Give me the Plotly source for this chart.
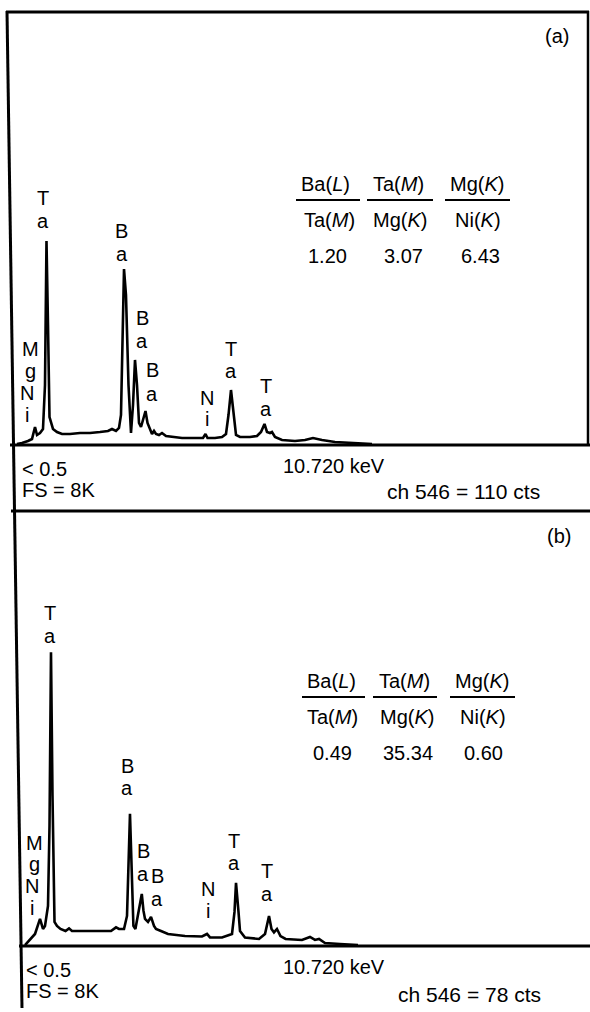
import plotly.graph_objects as go

# ---------------- data ----------------
# energy in keV, counts (full scale 8K)
energy_a = [0.776, 0.948, 1.155, 1.293, 1.397, 1.466, 1.569, 1.672, 1.741, 1.793,
            1.845, 1.897, 2.017, 2.155, 2.328, 2.603, 2.948, 3.293, 3.638, 3.914,
            4.052, 4.190, 4.293, 4.362, 4.466, 4.534, 4.621, 4.707, 4.776, 4.845,
            4.914, 4.983, 5.052, 5.121, 5.207, 5.276, 5.362, 5.431, 5.500, 5.569,
            5.672, 5.776, 5.914, 6.121, 6.466, 6.914, 7.190, 7.276, 7.345, 7.603,
            7.845, 7.983, 8.069, 8.155, 8.241, 8.328, 8.466, 8.810, 9.052, 9.190,
            9.310, 9.397, 9.500, 9.569, 9.672, 9.914, 10.362, 10.707, 10.983, 11.293,
            11.741, 12.259, 13.017]
counts_a = [18, 37, 74, 111, 333, 185, 222, 296, 1109, 3770,
            2218, 517, 296, 240, 203, 203, 222, 222, 240, 259,
            296, 259, 314, 554, 3252, 2772, 1109, 222, 739, 1571,
            1109, 407, 333, 480, 628, 407, 277, 203, 259, 203,
            185, 222, 166, 148, 129, 129, 129, 203, 129, 129,
            148, 203, 554, 1016, 647, 185, 148, 148, 166, 240,
            388, 240, 222, 240, 148, 92, 74, 92, 129, 92,
            55, 37, 18]

energy_b = [1.052, 1.224, 1.397, 1.569, 1.672, 1.741, 1.845, 1.897, 1.948, 2.000,
            2.069, 2.155, 2.276, 2.448, 2.569, 2.672, 3.086, 3.672, 4.017, 4.190,
            4.293, 4.466, 4.569, 4.672, 4.724, 4.790, 4.859, 4.948, 5.079, 5.138,
            5.190, 5.293, 5.397, 5.500, 5.569, 5.741, 5.983, 6.569, 7.155, 7.328,
            7.431, 7.845, 8.190, 8.276, 8.328, 8.414, 8.466, 8.638, 9.121, 9.328,
            9.466, 9.552, 9.638, 9.741, 9.862, 10.038, 10.603, 10.879, 11.052, 11.190,
            11.397, 11.914, 12.534]
counts_b = [18, 129, 221, 498, 313, 369, 737, 2212, 5400, 2765,
            442, 369, 313, 276, 324, 276, 276, 276, 276, 343,
            313, 313, 553, 2433, 1659, 369, 313, 553, 958, 645,
            498, 442, 534, 369, 313, 276, 221, 184, 175, 221,
            157, 157, 221, 627, 1161, 627, 276, 157, 129, 221,
            553, 313, 249, 313, 184, 129, 111, 166, 111, 129,
            55, 37, 18]

ratio_headers_num = ["Ba(<i>L</i>)", "Ta(<i>M</i>)", "Mg(<i>K</i>)"]
ratio_headers_den = ["Ta(<i>M</i>)", "Mg(<i>K</i>)", "Ni(<i>K</i>)"]
ratios_a = ["1.20", "3.07", "6.43"]
ratios_b = ["0.49", "35.34", "0.60"]
counts_ch546 = ["110", "78"]
panel_tags = ["(a)", "(b)"]
full_scale = 8000
x_range = [0.638, 20.466]

# ---------------- layout helpers (pixel geometry) ----------------
W, H = 590, 1012
FONT = "Liberation Sans, Arial, Helvetica, sans-serif"


def px(x):
    return x / W


def py(y):
    return 1 - y / H


fig = go.Figure()

fig.add_trace(go.Scatter(x=energy_a, y=counts_a, mode="lines",
                         line=dict(color="black", width=2.6),
                         xaxis="x", yaxis="y", showlegend=False, hoverinfo="skip"))
fig.add_trace(go.Scatter(x=energy_b, y=counts_b, mode="lines",
                         line=dict(color="black", width=2.6),
                         xaxis="x2", yaxis="y2", showlegend=False, hoverinfo="skip"))

ax_common = dict(showgrid=False, zeroline=False, showticklabels=False,
                 ticks="", showline=False, fixedrange=True)
fig.update_layout(
    width=W, height=H,
    margin=dict(l=0, r=0, t=0, b=0),
    paper_bgcolor="white", plot_bgcolor="rgba(0,0,0,0)",
    xaxis=dict(domain=[px(13), px(588)], range=x_range, anchor="y", **ax_common),
    yaxis=dict(domain=[py(445), py(12)], range=[0, full_scale], anchor="x", **ax_common),
    xaxis2=dict(domain=[px(13), px(588)], range=x_range, anchor="y2", **ax_common),
    yaxis2=dict(domain=[py(946), py(511)], range=[0, full_scale], anchor="x2", **ax_common),
    showlegend=False,
)


def hline(x0, x1, y, w=3):
    fig.add_shape(type="line", xref="paper", yref="paper",
                  x0=px(x0), x1=px(x1), y0=py(y), y1=py(y),
                  line=dict(color="black", width=w))


def seg(x0, y0, x1, y1, w=3):
    fig.add_shape(type="line", xref="paper", yref="paper",
                  x0=px(x0), x1=px(x1), y0=py(y0), y1=py(y1),
                  line=dict(color="black", width=w))


# frame lines
hline(6, 589, 12)
seg(588, 11, 588, 445, 2.5)
seg(7, 11, 22, 1008, 3)
hline(10, 590, 445)
hline(11, 590, 511)
hline(19, 590, 946)


def ann(text, x, y, size=20, xanchor="center"):
    fig.add_annotation(text=text, x=px(x), y=py(y), xref="paper", yref="paper",
                       showarrow=False, xanchor=xanchor, yanchor="middle",
                       font=dict(family=FONT, size=size, color="black"))


def stacked(letters, x, ys, size=20):
    for ch, y in zip(letters, ys):
        ann(ch, x, y, size)


# ---- panel (a) peak labels ----
stacked("Ta", 43, [198, 221])
stacked("Ba", 122, [231, 254])
stacked("Ba", 142, [318, 341])
stacked("Ba", 152, [370, 394])
stacked("Mg", 30, [349, 371])
stacked("Ni", 27, [393, 415])
stacked("Ni", 207, [398, 419])
stacked("Ta", 231, [349, 371])
stacked("Ta", 266, [386, 409])

# ---- panel (b) peak labels ----
stacked("Ta", 50, [613, 636])
stacked("Ba", 127, [766, 788])
stacked("Ba", 143, [851, 874])
stacked("Ba", 157, [876, 899])
stacked("Mg", 34, [843, 864])
stacked("Ni", 32, [886, 908])
stacked("Ni", 208, [889, 911])
stacked("Ta", 234, [841, 863])
stacked("Ta", 267, [871, 894])


# ---- ratio tables ----
def table(yoff, xs_num, xs_den, xs_val, lines, vals):
    for t, x in zip(ratio_headers_num, xs_num):
        ann(t, x, 184 + yoff)
    for (x0, x1) in lines:
        hline(x0, x1, 200 + yoff, 2)
    for t, x in zip(ratio_headers_den, xs_den):
        ann(t, x, 220 + yoff)
    for t, x in zip(vals, xs_val):
        ann(t, x, 256 + yoff)


table(0, [325, 398, 477], [329, 400, 478], [327, 403, 480],
      [(296, 360), (367, 433), (445, 510)], ratios_a)
table(497, [331, 404, 482], [332, 407, 483], [332, 408, 483],
      [(302, 365), (373, 437), (450, 515)], ratios_b)

ann(panel_tags[0], 557, 36)
ann(panel_tags[1], 559, 536)

# ---- bottom texts ----
ann("&lt; 0.5", 20, 469, xanchor="left")
ann("FS = 8K", 20, 490, xanchor="left")
ann("10.720 keV", 281, 466, xanchor="left")
ann("ch 546 = " + counts_ch546[0] + " cts", 385, 491, size=21, xanchor="left")

ann("&lt; 0.5", 24, 970, xanchor="left")
ann("FS = 8K", 24, 991, xanchor="left")
ann("10.720 keV", 281, 967, xanchor="left")
ann("ch 546 = " + counts_ch546[1] + " cts", 396, 994, size=21, xanchor="left")

fig.write_html(
    "out.html",
    config=dict(displayModeBar=False, staticPlot=True),
    post_script="document.body.style.margin='0px';"
                "document.body.style.padding='0px';"
                "document.body.style.overflow='hidden';"
                "document.documentElement.style.overflow='hidden';",
)
